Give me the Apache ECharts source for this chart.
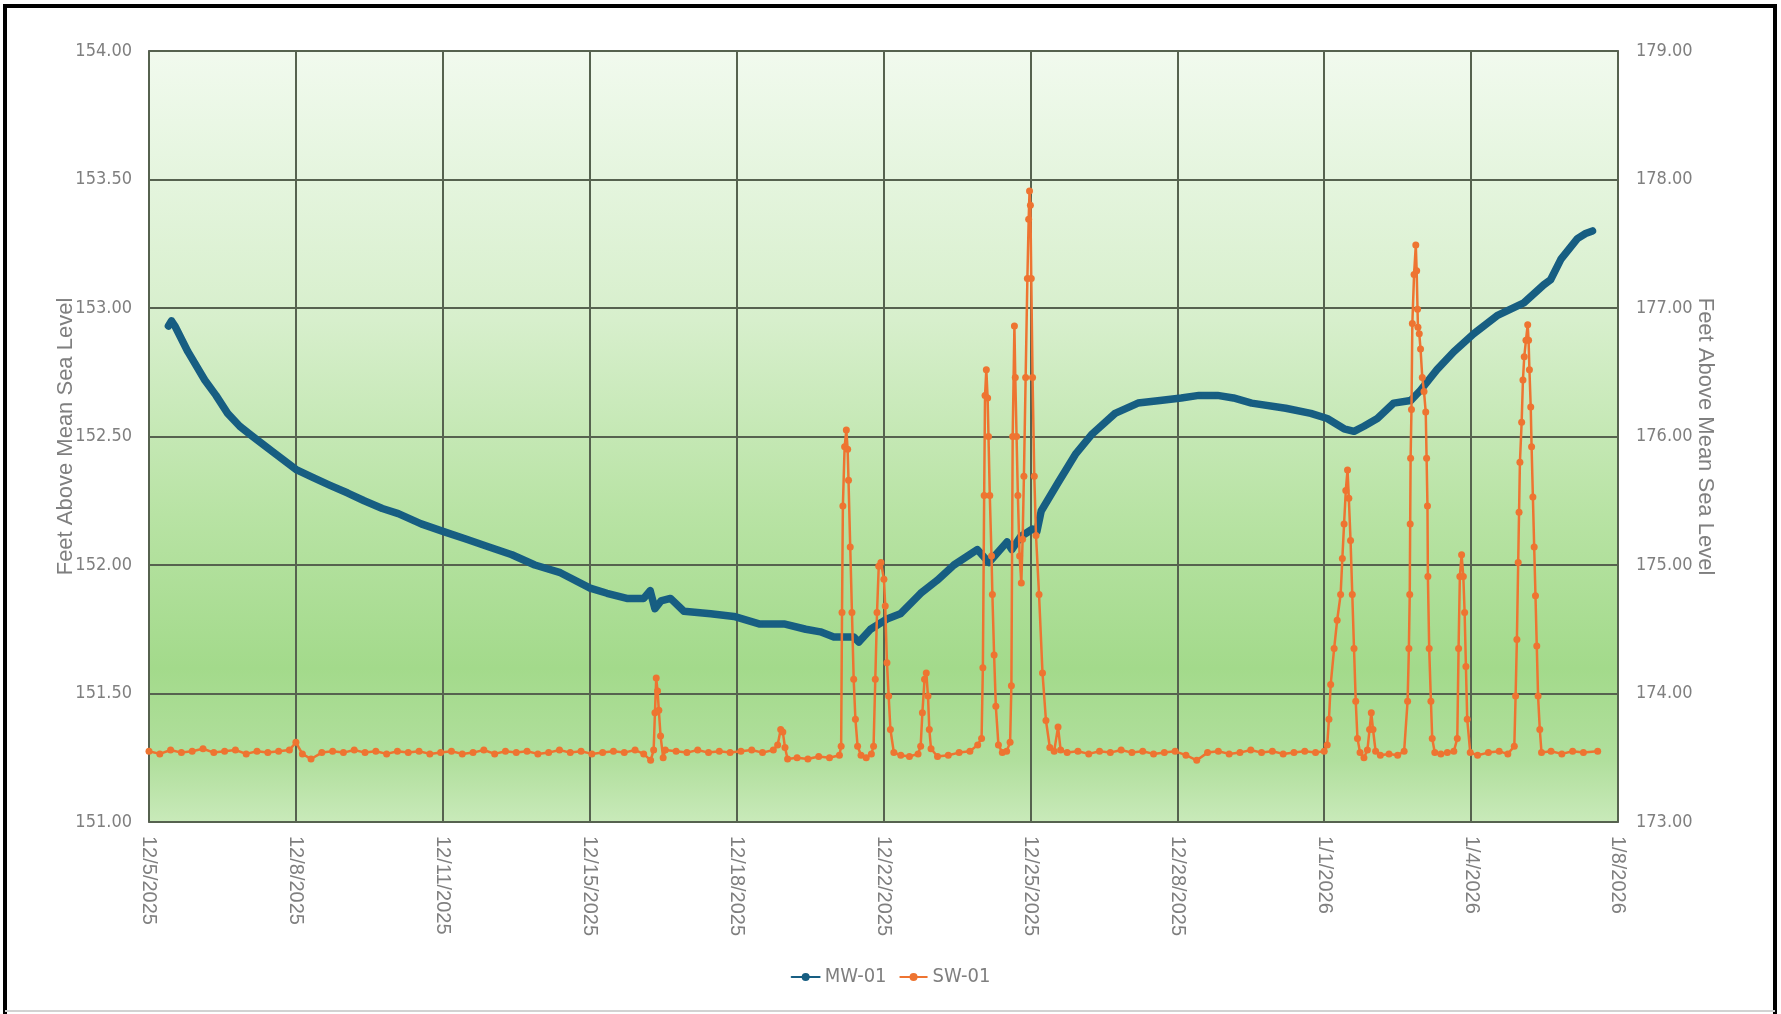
<!DOCTYPE html>
<html>
<head>
<meta charset="utf-8">
<style>
  html, body { margin: 0; padding: 0; background: #ffffff; }
  #chart { width: 1781px; height: 1014px; }
</style>
<script src="https://cdn.jsdelivr.net/npm/echarts@6/dist/echarts.min.js"></script>
</head>
<body>
<div id="chart"></div>
<script>
// x values are days since 12/5/2025 00:00
const startDateUTC = Date.UTC(2025, 11, 5);

// MW-01 (left axis, ft above mean sea level)
const mwDays = [
  0.45, 0.52, 0.60, 0.90, 1.29, 1.55, 1.82, 2.10, 2.40, 2.87, 3.42, 3.80, 4.19, 4.60, 4.98,
  5.40, 5.77, 6.30, 6.82, 7.35, 7.87, 8.40, 8.93, 9.52, 10.21, 10.60, 11.06, 11.45, 11.60, 11.71,
  11.85, 12.07, 12.38, 13.00, 13.54, 14.14, 14.72, 15.20, 15.54, 15.85, 16.31, 16.43, 16.70, 17.08, 17.39,
  17.86, 18.24, 18.63, 19.17, 19.44, 19.86, 19.97, 20.17, 20.45, 20.55, 20.65, 21.04, 21.44, 21.83, 22.36,
  22.89, 23.40, 23.89, 24.30, 24.73, 25.10, 25.52, 26.31, 26.89, 27.27, 27.66, 27.89, 28.12, 28.43, 28.81,
  29.20, 29.43, 29.81, 30.20, 30.66, 31.20, 31.82, 32.28, 32.44, 32.68, 33.06, 33.25, 33.41
];
const mwLevels = [
  152.93, 152.95, 152.93, 152.83, 152.72, 152.66, 152.59, 152.54, 152.50, 152.44, 152.37, 152.34, 152.31, 152.28, 152.25,
  152.22, 152.20, 152.16, 152.13, 152.10, 152.07, 152.04, 152.00, 151.97, 151.91, 151.89, 151.87, 151.87, 151.90, 151.83,
  151.86, 151.87, 151.82, 151.81, 151.80, 151.77, 151.77, 151.75, 151.74, 151.72, 151.72, 151.70, 151.75, 151.79, 151.81,
  151.89, 151.94, 152.00, 152.06, 152.01, 152.09, 152.06, 152.11, 152.14, 152.13, 152.21, 152.32, 152.43, 152.51, 152.59,
  152.63, 152.64, 152.65, 152.66, 152.66, 152.65, 152.63, 152.61, 152.59, 152.57, 152.53, 152.52, 152.54, 152.57, 152.63,
  152.64, 152.68, 152.76, 152.83, 152.90, 152.97, 153.02, 153.09, 153.11, 153.19, 153.27, 153.29, 153.30
];

// SW-01 (right axis, ft above mean sea level)
const swDays = [
  0.00, 0.25, 0.50, 0.75, 1.00, 1.25, 1.50, 1.75, 2.00, 2.25, 2.50, 2.75, 3.00, 3.25, 3.40, 3.55, 3.75,
  4.00, 4.25, 4.50, 4.75, 5.00, 5.25, 5.50, 5.75, 6.00, 6.25, 6.50, 6.75, 7.00, 7.25, 7.50, 7.75,
  8.00, 8.25, 8.50, 8.75, 9.00, 9.25, 9.50, 9.75, 10.00, 10.25, 10.50, 10.75, 11.00, 11.25, 11.45, 11.61,
  11.68, 11.71, 11.74, 11.77, 11.80, 11.84, 11.90, 11.95,
  12.20, 12.45, 12.70, 12.95, 13.20, 13.45, 13.70, 13.95, 14.20, 14.45,
  14.55, 14.62, 14.67, 14.72, 14.78,
  15.00, 15.25, 15.50, 15.75, 15.98,
  16.02, 16.04, 16.06, 16.10, 16.14, 16.17, 16.19, 16.23, 16.27, 16.31, 16.35, 16.40, 16.48, 16.60, 16.72,
  16.77, 16.81, 16.85, 16.89, 16.94, 17.01, 17.04, 17.08, 17.12, 17.16, 17.24, 17.40, 17.60, 17.80,
  17.86, 17.90, 17.95, 17.99, 18.03, 18.06, 18.10, 18.25, 18.50, 18.75, 19.00, 19.18,
  19.27, 19.30, 19.33, 19.35, 19.38, 19.41, 19.43, 19.46, 19.50, 19.52, 19.56, 19.60, 19.66, 19.75, 19.85,
  19.93, 19.96, 19.99, 20.03, 20.05, 20.08, 20.11, 20.15, 20.19, 20.22, 20.25, 20.29, 20.33, 20.36, 20.38,
  20.40, 20.42, 20.45, 20.49, 20.53, 20.60, 20.68, 20.76, 20.85, 20.95, 21.04, 21.10,
  21.25, 21.50, 21.75, 22.00, 22.25, 22.50, 22.75, 23.00, 23.25, 23.50, 23.75, 24.00, 24.25, 24.50, 24.75,
  25.00, 25.25, 25.50, 25.75, 26.00, 26.25, 26.50, 26.75, 27.00, 27.20,
  27.27, 27.31, 27.35, 27.43, 27.50, 27.58, 27.62, 27.66, 27.70, 27.74, 27.77, 27.81, 27.85, 27.89, 27.93,
  27.97, 28.03, 28.12, 28.20, 28.25, 28.29, 28.33, 28.39, 28.50, 28.70, 28.90, 29.05,
  29.13, 29.16, 29.18, 29.19, 29.20, 29.22, 29.24, 29.28, 29.32, 29.34, 29.36, 29.37, 29.40, 29.43, 29.47,
  29.51, 29.55, 29.57, 29.59, 29.60, 29.63, 29.67, 29.70, 29.76, 29.90, 30.05, 30.20,
  30.28, 30.31, 30.34, 30.38, 30.42, 30.45, 30.48, 30.51, 30.58, 30.75, 31.00, 31.25, 31.45,
  31.60, 31.63, 31.66, 31.69, 31.71, 31.73, 31.77, 31.80, 31.83, 31.87, 31.91, 31.93, 31.95, 31.98, 32.00,
  32.03, 32.06, 32.09, 32.12, 32.15, 32.19, 32.23, 32.45, 32.70, 32.95, 33.20, 33.53
];
const swLevels = [
  173.55, 173.53, 173.56, 173.54, 173.55, 173.57, 173.54, 173.55, 173.56, 173.53, 173.55, 173.54, 173.55, 173.56, 173.62, 173.53, 173.49,
  173.54, 173.55, 173.54, 173.56, 173.54, 173.55, 173.53, 173.55, 173.54, 173.55, 173.53, 173.54, 173.55, 173.53, 173.54, 173.56,
  173.53, 173.55, 173.54, 173.55, 173.53, 173.54, 173.56, 173.54, 173.55, 173.53, 173.54, 173.55, 173.54, 173.56, 173.53, 173.48,
  173.56, 173.85, 174.12, 174.02, 173.87, 173.67, 173.50, 173.56,
  173.55, 173.54, 173.56, 173.54, 173.55, 173.54, 173.55, 173.56, 173.54, 173.56,
  173.60, 173.72, 173.70, 173.58, 173.49,
  173.50, 173.49, 173.51, 173.50, 173.52,
  173.59, 174.63, 175.46, 175.92, 176.05, 175.90, 175.66, 175.14, 174.63, 174.11, 173.80, 173.59, 173.52, 173.50, 173.53,
  173.59, 174.11, 174.63, 174.99, 175.02, 174.89, 174.68, 174.24, 173.98, 173.72, 173.54, 173.52, 173.51, 173.53,
  173.59, 173.85, 174.11, 174.16, 173.98, 173.72, 173.57, 173.51, 173.52, 173.54, 173.55, 173.60,
  173.65, 174.20, 175.54, 176.32, 176.52, 176.30, 176.00, 175.54, 175.07, 174.77, 174.30, 173.90, 173.60, 173.54, 173.55,
  173.62, 174.06, 176.00, 176.86, 176.46, 176.00, 175.54, 175.07, 174.86, 175.20, 175.69, 176.46, 177.23, 177.69, 177.91,
  177.80, 177.23, 176.46, 175.69, 175.23, 174.77, 174.16, 173.79, 173.58, 173.55, 173.74, 173.56,
  173.54, 173.55, 173.53, 173.55, 173.54, 173.56, 173.54, 173.55, 173.53, 173.54, 173.55, 173.52, 173.48, 173.54, 173.55,
  173.53, 173.54, 173.56, 173.54, 173.55, 173.53, 173.54, 173.55, 173.54, 173.55,
  173.60, 173.80, 174.07, 174.35, 174.57, 174.77, 175.05, 175.32, 175.58, 175.74, 175.52, 175.19, 174.77, 174.35, 173.94,
  173.65, 173.54, 173.50, 173.56, 173.72, 173.85, 173.72, 173.55, 173.52, 173.53, 173.52, 173.55,
  173.94, 174.35, 174.77, 175.32, 175.83, 176.21, 176.88, 177.26, 177.49, 177.29, 176.99, 176.85, 176.80, 176.68, 176.46,
  176.35, 176.19, 175.83, 175.46, 174.91, 174.35, 173.94, 173.65, 173.54, 173.53, 173.54, 173.55,
  173.65, 174.35, 174.91, 175.08, 174.91, 174.63, 174.21, 173.80, 173.54, 173.52, 173.54, 173.55, 173.53,
  173.59, 173.98, 174.42, 175.02, 175.41, 175.80, 176.11, 176.44, 176.62, 176.75, 176.87, 176.75, 176.52, 176.23, 175.92,
  175.53, 175.14, 174.76, 174.37, 173.98, 173.72, 173.54, 173.55, 173.53, 173.55, 173.54, 173.55
];

const seriesNames = ['MW-01', 'SW-01'];
const axisTitle = 'Feet Above Mean Sea Level';

const narrow = "'Liberation Sans Narrow', 'DejaVu Sans Condensed', 'Arial Narrow', 'Liberation Sans', sans-serif";
const regular = "'Liberation Sans', Arial, sans-serif";
const labelGray = '#7f7f7f';

function dayLabel(v) {
  const d = new Date(startDateUTC + Math.floor(v + 1e-6) * 86400000);
  return (d.getUTCMonth() + 1) + '/' + d.getUTCDate() + '/' + d.getUTCFullYear();
}

const chart = echarts.init(document.getElementById('chart'), null, { renderer: 'canvas' });
chart.setOption({
  animation: false,
  backgroundColor: '#ffffff',
  graphic: [
    { type: 'rect', shape: { x: 5, y: 6, width: 1770, height: 1040 },
      style: { fill: 'none', stroke: '#000000', lineWidth: 4 }, z: 100 },
    { type: 'line', shape: { x1: 5, y1: 1011, x2: 1775, y2: 1011 },
      style: { stroke: '#d2d2d2', lineWidth: 2 }, z: 100 }
  ],
  grid: {
    left: 149, right: 163, top: 51, bottom: 192,
    show: true,
    borderColor: '#6e6e6e',
    borderWidth: 2,
    backgroundColor: {
      type: 'linear', x: 0, y: 0, x2: 0, y2: 1,
      colorStops: [
        { offset: 0, color: '#f1faee' },
        { offset: 0.35, color: '#d7efcc' },
        { offset: 0.6, color: '#b8e3a4' },
        { offset: 0.8, color: '#a3da8b' },
        { offset: 0.92, color: '#b1df9d' },
        { offset: 1, color: '#c9eaba' }
      ]
    }
  },
  legend: {
    data: seriesNames,
    bottom: 22,
    left: 'center',
    itemWidth: 28,
    itemHeight: 10,
    itemGap: 12,
    textStyle: { color: labelGray, fontSize: 20, fontFamily: narrow }
  },
  xAxis: {
    type: 'value',
    min: 0, max: 34, interval: 3.4,
    axisLine: { show: false },
    axisTick: { show: false },
    splitLine: { show: true, lineStyle: { color: '#56624f', width: 2 } },
    axisLabel: {
      rotate: -90, margin: 14, color: labelGray, fontSize: 20, fontFamily: regular,
      showMaxLabel: true, showMinLabel: true,
      formatter: dayLabel
    }
  },
  yAxis: [
    {
      type: 'value', position: 'left',
      min: 151, max: 154, interval: 0.5,
      name: axisTitle, nameLocation: 'middle', nameGap: 72, nameRotate: 90,
      nameMoveOverlap: false,
      nameTextStyle: { color: labelGray, fontSize: 22, fontFamily: regular },
      axisLine: { show: false }, axisTick: { show: false },
      splitLine: { show: true, lineStyle: { color: '#56624f', width: 2 } },
      axisLabel: { color: labelGray, fontSize: 18, fontFamily: narrow, margin: 17,
        formatter: v => v.toFixed(2) }
    },
    {
      type: 'value', position: 'right',
      min: 173, max: 179, interval: 1,
      name: axisTitle, nameLocation: 'middle', nameGap: 76, nameRotate: -90,
      nameMoveOverlap: false,
      nameTextStyle: { color: labelGray, fontSize: 22, fontFamily: regular },
      axisLine: { show: false }, axisTick: { show: false },
      splitLine: { show: false },
      axisLabel: { color: labelGray, fontSize: 18, fontFamily: narrow, margin: 18,
        formatter: v => v.toFixed(2) }
    }
  ],
  series: [
    {
      name: seriesNames[0],
      type: 'line',
      yAxisIndex: 0,
      data: mwDays.map((d, i) => [d, mwLevels[i]]),
      symbol: 'circle', symbolSize: 6, showAllSymbol: true,
      lineStyle: { color: '#175e82', width: 7.5, join: 'round', cap: 'round' },
      itemStyle: { color: '#175e82' },
      z: 2
    },
    {
      name: seriesNames[1],
      type: 'line',
      yAxisIndex: 1,
      data: swDays.map((d, i) => [d, swLevels[i]]),
      symbol: 'circle', symbolSize: 7, showAllSymbol: true,
      lineStyle: { color: '#ee7431', width: 2.5 },
      itemStyle: { color: '#ee7431' },
      z: 3
    }
  ]
});
</script>
</body>
</html>
